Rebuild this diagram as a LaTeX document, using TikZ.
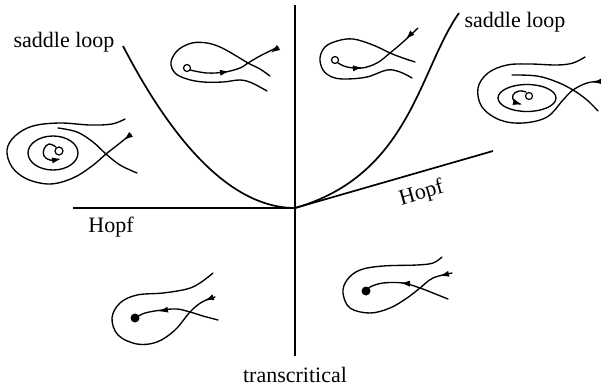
\documentclass[tikz,border=0pt]{standalone}
\usepackage{fontspec}
\setmainfont{Liberation Serif}
\usetikzlibrary{arrows.meta}
\begin{document}
\begin{tikzpicture}[x=1pt,y=-1pt,
  axisline/.style={line width=1.7pt},
  traj/.style={line width=1.35pt, line cap=round},
  arr/.style={line width=0.8pt,-{Latex[length=9pt,width=6pt]}},
  lbl/.style={font=\fontsize{22}{26}\selectfont, inner sep=0pt, anchor=base},
  hole/.style={line width=1.2pt, fill=white},
  sink/.style={fill=black}]
\useasboundingbox (0,0) rectangle (601,391);

% ---- bifurcation set ----
\coordinate (O) at (295,208);
\coordinate (vt) at (295,5);
\coordinate (vb) at (295,356);
\coordinate (hl) at (73,208);
\coordinate (hr) at (493,151);
\coordinate (sl) at (123,46);
\coordinate (sr) at (459,13);
\draw[axisline] (vt) -- (vb);
\draw[axisline] (hl) -- (O) -- (hr);
\draw[axisline] (sl) .. controls (190,175) and (250,208) .. (O);
\draw[axisline] (O) .. controls (410,175) and (419,70) .. (sr);

% ---- labels ----
\node[lbl] (l1) at (64,47) {saddle loop};
\node[lbl] (l2) at (515,27) {saddle loop};
\node[lbl] (l3) at (111,232) {Hopf};
\node[lbl, rotate=16] (l4) at (423,199) {Hopf};
\node[lbl] (l5) at (295,382) {transcritical};

% ---- portrait A (left) ----
\draw[traj] plot[smooth,tension=0.6] coordinates {(125,119)(112,124)(90,125)(60,123)(33,126)(15,136)(7,150)(12,167)(27,179)(50,184)(73,178)(92,166)(106,154)(120,143)(131,134)};
\draw[traj] plot[smooth,tension=0.6] coordinates {(58,128)(77,132)(93,142)(106,154)(120,165)(137,173)};
\draw[traj] (53,153) ellipse[x radius=25pt, y radius=17pt];
\draw[traj] plot[smooth,tension=0.7] coordinates {(56,147)(49,144)(44,149)(44,156)(50,160)(57,159.5)};
\draw[arr] (53,160.3) -- (61,158.8);
\draw[arr] (129,136) -- (124,140);
\draw[hole] (59,151) circle[radius=4pt];

% ---- portrait B (top, left of axis) ----
\draw[traj] plot[smooth,tension=0.6] coordinates {(270,76)(260,69)(248,63)(233,54)(220,47)(207,43)(192,43)(178,50)(171,62)(175,73)(187,79)(203,82)(223,82)(240,80)(252,83)(267,91)};
\draw[traj] plot[smooth,tension=0.6] coordinates {(190,70)(207,73)(225,72)(240,68)(248,63)(260,56)(278,47)};
\draw[arr] (221,72.6) -- (229,71.4);
\draw[arr] (277,48.5) -- (271,52.5);
\draw[hole] (187,68) circle[radius=3.5pt];

% ---- portrait C (top, right of axis) ----
\draw[traj] plot[smooth,tension=0.6] coordinates {(415,62)(403,58)(390,53)(373,45)(353,39)(337,41)(325,47)(320,58)(323,70)(332,77)(345,79)(367,77)(387,70)(400,72)(412,78)};
\draw[traj] plot[smooth,tension=0.6] coordinates {(338,63)(347,67)(362,68)(377,63)(390,53)(403,42)(418,28)};
\draw[arr] (354,68.2) -- (362,67.6);
\draw[arr] (411,34) -- (406,39);
\draw[hole] (335,60) circle[radius=3.5pt];

% ---- portrait D (right) ----
\draw[traj] plot[smooth,tension=0.6] coordinates {(585,57)(573,63)(557,65)(530,64)(507,65)(488,73)(478,88)(482,107)(500,120)(523,123)(547,117)(563,100)(573,90)(587,83)(601,81)};
\draw[traj] plot[smooth,tension=0.6] coordinates {(512,75)(537,76)(557,82)(573,90)(587,100)(598,111)};
\draw[traj] (527,98) ellipse[x radius=29pt, y radius=13.5pt];
\draw[traj] plot[smooth,tension=0.7] coordinates {(526,92)(519,91)(513,95)(514,101)(520,104)};
\draw[arr] (515,102.5) -- (522,104.5);
\draw[arr] (600,81.5) -- (593,82.5);
\draw[hole] (529,96) circle[radius=3.5pt];

% ---- portrait E (bottom left) ----
\draw[traj] plot[smooth,tension=0.6] coordinates {(213,273)(200,283)(187,289)(163,293)(137,295)(120,303)(112,318)(118,335)(137,344)(157,342)(175,330)(190,312)(202,302)(215,297)};
\draw[traj] plot[smooth,tension=0.6] coordinates {(135,318)(145,313)(162,310)(177,309)(190,312)(203,316)(218,320)};
\draw[arr] (212,297.7) -- (205,300.5);
\draw[arr] (166,310) -- (159,311.3);
\fill[sink] (135,318) circle[radius=4.5pt];

% ---- portrait F (bottom right) ----
\draw[traj] plot[smooth,tension=0.6] coordinates {(442,257)(433,263)(417,265)(383,266)(360,270)(347,280)(343,293)(350,308)(370,313)(390,308)(407,298)(420,288)(433,278)(452,273)};
\draw[traj] plot[smooth,tension=0.6] coordinates {(366,291)(370,287)(383,283)(403,283)(420,288)(433,293)(448,299)};
\draw[arr] (447,274.2) -- (440,275.8);
\draw[arr] (408,283.5) -- (401,283.1);
\fill[sink] (366,291) circle[radius=4.5pt];
\end{tikzpicture}
\end{document}
